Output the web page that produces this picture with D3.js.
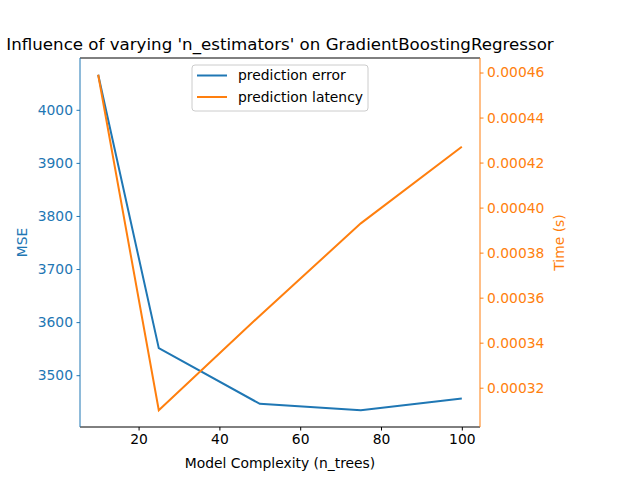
<!DOCTYPE html>
<html>
<head>
<meta charset="utf-8">
<script src="https://cdn.jsdelivr.net/npm/d3@7"></script>
<style>
  body { margin: 0; background: #fff; }
  svg, svg text { font-family: 'DejaVu Sans', sans-serif; }
</style>
</head>
<body>
<svg width="640" height="480"></svg>
<script>
const nTrees = [10, 25, 50, 75, 100];
const mse = [4066, 3551, 3446, 3434, 3456];
const latency = [0.000459, 0.000310, 0.000352, 0.000393, 0.000427];
const mseTicks = [3500, 3600, 3700, 3800, 3900, 4000];
const timeTicks = [0.00032, 0.00034, 0.00036, 0.00038, 0.00040, 0.00042, 0.00044, 0.00046];
const xTicks = [20, 40, 60, 80, 100];

const blue = '#1f77b4';
const orange = '#ff7f0e';
const plotLeft = 80, plotRight = 480, plotTop = 58, plotBottom = 427;
const fs = '13.89px';

const svg = d3.select('svg');

function padded(vals) {
  const lo = d3.min(vals), hi = d3.max(vals), m = (hi - lo) * 0.05;
  return [lo - m, hi + m];
}

const xScale = d3.scaleLinear().domain(padded(nTrees)).range([plotLeft, plotRight]);
const yMse = d3.scaleLinear().domain(padded(mse)).range([plotBottom, plotTop]);
const yTime = d3.scaleLinear().domain(padded(latency)).range([plotBottom, plotTop]);

// axes
const xAxis = d3.axisBottom(xScale).tickValues(xTicks).tickSize(3.5).tickPadding(3.5)
  .tickFormat(d3.format('d'));
const gx = svg.append('g').attr('transform', 'translate(0,' + plotBottom + ')').call(xAxis);
gx.select('.domain').remove();
gx.selectAll('text').style('font-size', fs).attr('fill', '#000');

const yAxisL = d3.axisLeft(yMse).tickValues(mseTicks).tickSize(3.5).tickPadding(3.5)
  .tickFormat(d3.format('d'));
const gl = svg.append('g').attr('transform', 'translate(' + plotLeft + ',0)').call(yAxisL);
gl.select('.domain').remove();
gl.selectAll('line').attr('stroke', blue);
gl.selectAll('text').style('font-size', fs).attr('fill', blue);

const yAxisR = d3.axisRight(yTime).tickValues(timeTicks).tickSize(3.5).tickPadding(3.5)
  .tickFormat(d3.format('.5f'));
const gr = svg.append('g').attr('transform', 'translate(' + plotRight + ',0)').call(yAxisR);
gr.select('.domain').remove();
gr.selectAll('line').attr('stroke', orange);
gr.selectAll('text').style('font-size', fs).attr('fill', orange);

svg.selectAll('g').attr('font-family', null);

// lines
const lineMse = d3.line().x((d, i) => xScale(nTrees[i])).y(d => yMse(d));
const lineTime = d3.line().x((d, i) => xScale(nTrees[i])).y(d => yTime(d));

svg.append('path').datum(mse).attr('d', lineMse)
  .attr('fill', 'none').attr('stroke', blue).attr('stroke-width', 2);
svg.append('path').datum(latency).attr('d', lineTime)
  .attr('fill', 'none').attr('stroke', orange).attr('stroke-width', 2);

// spines
svg.append('line').attr('x1', plotLeft).attr('x2', plotRight).attr('y1', plotTop).attr('y2', plotTop)
  .attr('stroke', '#000').attr('stroke-width', 1);
svg.append('line').attr('x1', plotLeft).attr('x2', plotRight).attr('y1', plotBottom).attr('y2', plotBottom)
  .attr('stroke', '#000').attr('stroke-width', 1);
svg.append('line').attr('x1', plotLeft).attr('x2', plotLeft).attr('y1', plotTop).attr('y2', plotBottom)
  .attr('stroke', blue).attr('stroke-width', 1);
svg.append('line').attr('x1', plotRight).attr('x2', plotRight).attr('y1', plotTop).attr('y2', plotBottom)
  .attr('stroke', orange).attr('stroke-width', 1);

// labels
svg.append('text').attr('x', (plotLeft + plotRight) / 2).attr('y', 50)
  .attr('text-anchor', 'middle').style('font-size', '16.67px')
  .text("Influence of varying 'n_estimators' on GradientBoostingRegressor");

svg.append('text').attr('x', (plotLeft + plotRight) / 2).attr('y', 468)
  .attr('text-anchor', 'middle').style('font-size', fs)
  .text('Model Complexity (n_trees)');

svg.append('text').attr('transform', 'translate(27,' + (plotTop + plotBottom) / 2 + ') rotate(-90)')
  .attr('text-anchor', 'middle').style('font-size', fs).attr('fill', blue)
  .text('MSE');

svg.append('text').attr('transform', 'translate(564,' + (plotTop + plotBottom) / 2 + ') rotate(-90)')
  .attr('text-anchor', 'middle').style('font-size', fs).attr('fill', orange)
  .text('Time (s)');

// legend
const legendItems = [
  { label: 'prediction error', color: blue },
  { label: 'prediction latency', color: orange }
];
const lg = svg.append('g').attr('transform', 'translate(192,65)');
lg.append('rect').attr('width', 176).attr('height', 46).attr('rx', 3)
  .attr('fill', 'rgba(255,255,255,0.8)').attr('stroke', '#cccccc');
legendItems.forEach((d, i) => {
  const y = 10.5 + i * 21.5;
  lg.append('line').attr('x1', 5).attr('x2', 35).attr('y1', y).attr('y2', y)
    .attr('stroke', d.color).attr('stroke-width', 2);
  lg.append('text').attr('x', 46).attr('y', y + 4.7)
    .style('font-size', fs).text(d.label);
});
</script>
</body>
</html>
